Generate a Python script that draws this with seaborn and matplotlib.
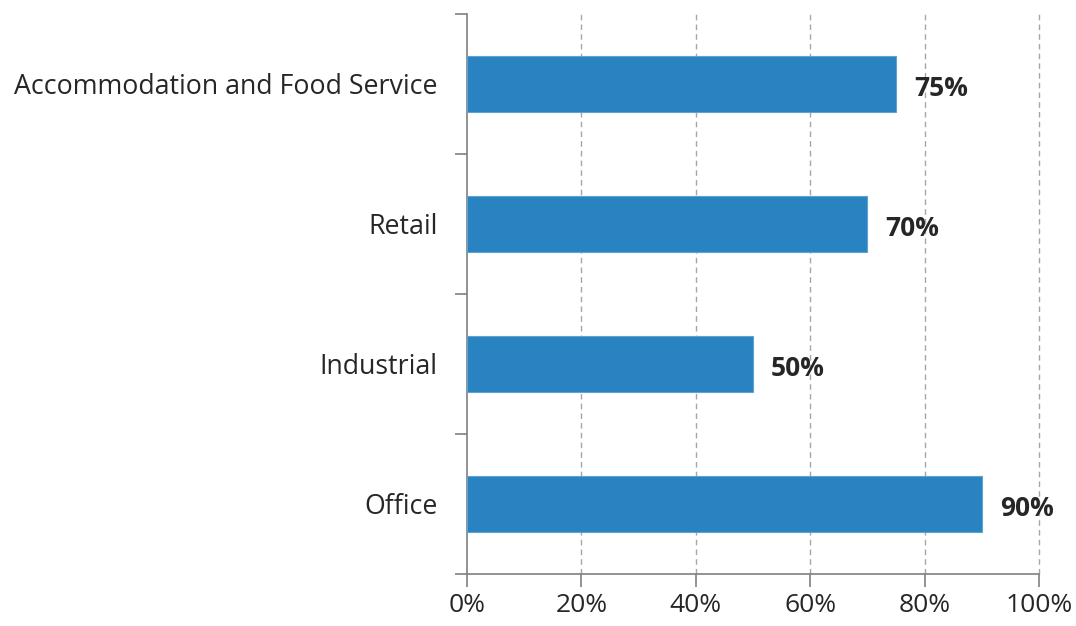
import matplotlib
matplotlib.use("Agg")
import matplotlib.pyplot as plt
from matplotlib.ticker import FixedLocator, PercentFormatter
import seaborn as sns
import pandas as pd

categories = ["Accommodation and Food Service", "Retail", "Industrial", "Office"]
shares = [75, 70, 50, 90]
x_ticks = [0, 20, 40, 60, 80, 100]

sns.set_style("white")
plt.rcParams["font.family"] = ["Open Sans", "DejaVu Sans"]

df = pd.DataFrame({"sector": categories, "share": shares})

fig = plt.figure(figsize=(10.76, 6.26), dpi=100)
ax = fig.add_axes([467 / 1076, 1 - 574 / 626, (1039 - 467) / 1076, (574 - 14) / 626])

sns.barplot(data=df, y="sector", x="share", orient="h", color="#2983C1",
            saturation=1, width=0.4, ax=ax, zorder=3, edgecolor="#5FA3D3", linewidth=0.8)

ax.set_xlim(0, 100)
ax.set_ylim(len(categories) - 0.5, -0.5)
ax.set_xlabel("")
ax.set_ylabel("")

ax.set_xticks(x_ticks)
ax.xaxis.set_major_formatter(PercentFormatter(decimals=0))
for x in x_ticks[1:]:
    ax.axvline(x, color="#A6A6A6", linestyle=(0, (4, 3)), linewidth=1.0, zorder=1, clip_on=False)

# category boundaries carry the y tick marks, labels sit at centres
ax.yaxis.set_minor_locator(FixedLocator([i - 0.5 for i in range(len(categories) + 1)]))
ax.tick_params(axis="y", which="major", length=0, pad=21, labelsize=19.3, labelcolor="#262626")
ax.tick_params(axis="y", which="minor", length=9, width=1.2, color="#808080", left=True)
ax.tick_params(axis="x", which="major", length=9, width=1.2, color="#808080",
               bottom=True, pad=5, labelsize=19, labelcolor="#262626")

for side in ["top", "right"]:
    ax.spines[side].set_visible(False)
for side in ["left", "bottom"]:
    ax.spines[side].set_color("#808080")
    ax.spines[side].set_linewidth(1.2)

for i, v in enumerate(shares):
    ax.annotate(f"{v}%", xy=(v, i), xytext=(13, -3), textcoords="offset points",
                va="center", ha="left", fontsize=19, fontweight="bold", color="#262626")

fig.savefig("out.png", dpi=100)
